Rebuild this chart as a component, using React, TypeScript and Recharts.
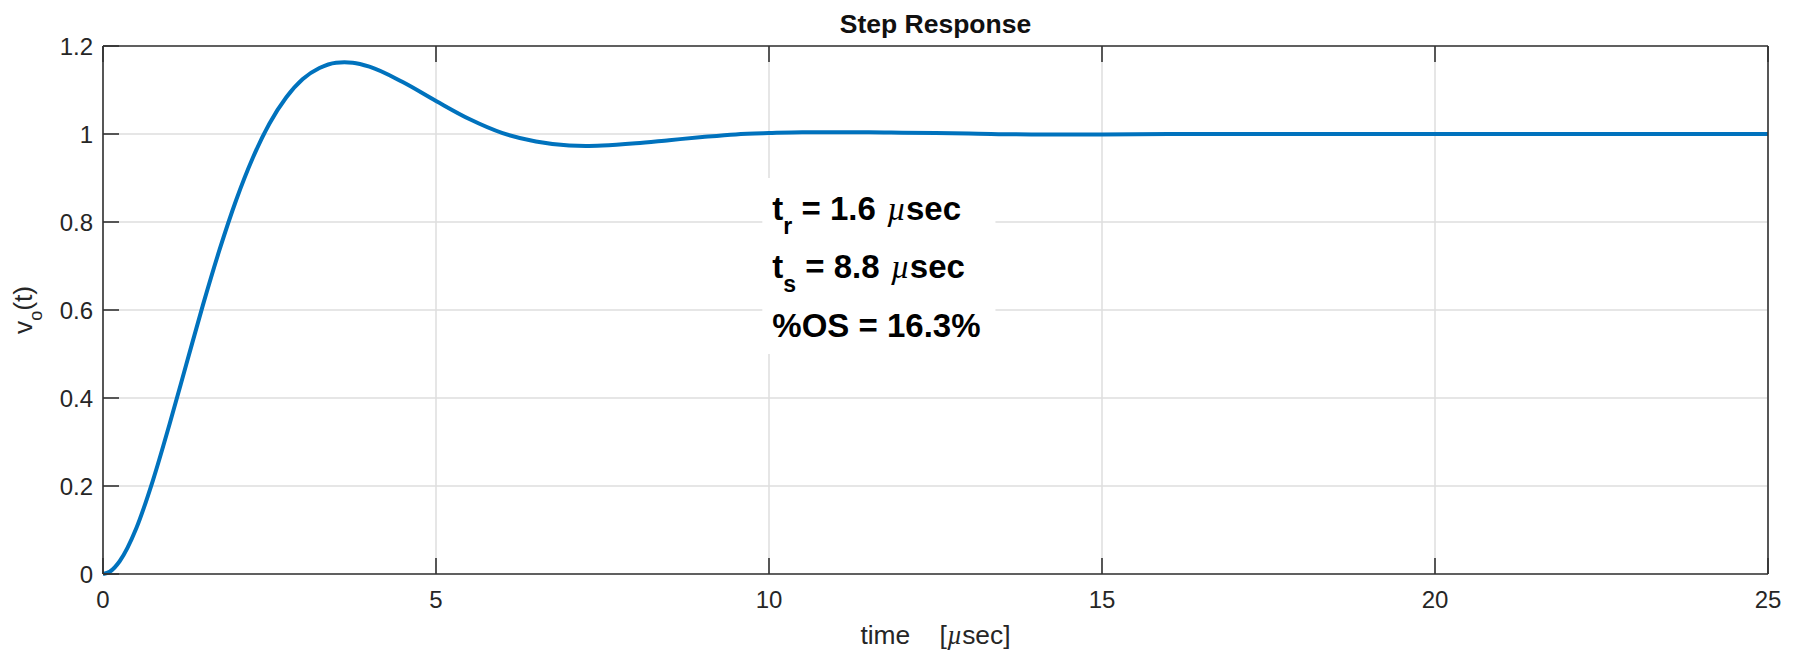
import { LineChart, Line, XAxis, YAxis, CartesianGrid, ReferenceArea } from "recharts";

// Step response (time in µsec, vo(t) in volts).
const times = [
  0, 0.1, 0.25, 0.5, 0.75, 1, 1.25, 1.5, 1.75, 2, 2.25, 2.5, 2.75, 3, 3.25, 3.5, 3.625, 3.75, 4, 4.5, 5,
  5.5, 6, 6.5, 7, 7.25, 7.5, 8, 8.5, 9, 9.5, 10, 10.5, 11, 11.5, 12, 13, 14, 15, 16, 18, 20, 22, 25,
];
const vout = [
  0, 0.005, 0.029, 0.104, 0.213, 0.341, 0.476, 0.611, 0.737, 0.85, 0.946, 1.024, 1.083, 1.125, 1.15, 1.162,
  1.163, 1.162, 1.153, 1.118, 1.075, 1.034, 1.002, 0.983, 0.974, 0.973, 0.974, 0.979, 0.986, 0.993, 0.999,
  1.002, 1.004, 1.004, 1.004, 1.003, 1.001, 0.999, 0.999, 1.0, 1.0, 1.0, 1.0, 1.0,
];

const xTicks = [0, 5, 10, 15, 20, 25];
const yTicks = [0, 0.2, 0.4, 0.6, 0.8, 1, 1.2];

const chartTitle = "Step Response";
const xLabel = "time    [";
const annotations = [
  { sym: "t", sub: "r", rest: " = 1.6 ", unit: "sec" },
  { sym: "t", sub: "s", rest: " = 8.8 ", unit: "sec" },
];
const overshootText = "%OS = 16.3%";

const FONT = '"Liberation Sans", Arial, Helvetica, sans-serif';
const MATH_FONT = '"Liberation Serif", "DejaVu Serif", serif';
const AXIS_COLOR = "#333333";
const TEXT_COLOR = "#262626";
const TICK_LEN = 16;

const data = times.map((t, i) => ({ t, v: vout[i] }));

// MATLAB-style ticks: drawn inward from the box edge, labels outside.
function BottomTick(props: any) {
  const { x, y, payload } = props;
  return (
    <g>
      <line x1={x} x2={x} y1={y} y2={y - TICK_LEN} stroke={AXIS_COLOR} strokeWidth={1.6} />
      <text x={x} y={y + 34} textAnchor="middle" fontSize={24} fontFamily={FONT} fill={TEXT_COLOR}>
        {payload.value}
      </text>
    </g>
  );
}

function TopTick(props: any) {
  const { x, y } = props;
  return <line x1={x} x2={x} y1={y} y2={y + TICK_LEN} stroke={AXIS_COLOR} strokeWidth={1.6} />;
}

function LeftTick(props: any) {
  const { x, y, payload } = props;
  return (
    <g>
      <line x1={x} x2={x + TICK_LEN} y1={y} y2={y} stroke={AXIS_COLOR} strokeWidth={1.6} />
      <text x={x - 10} y={y + 8.5} textAnchor="end" fontSize={24} fontFamily={FONT} fill={TEXT_COLOR}>
        {payload.value}
      </text>
    </g>
  );
}

function RightTick(props: any) {
  const { x, y } = props;
  return <line x1={x} x2={x - TICK_LEN} y1={y} y2={y} stroke={AXIS_COLOR} strokeWidth={1.6} />;
}

function renderTitle(props: any) {
  const vb = props.viewBox;
  return (
    <text
      x={vb.x + vb.width / 2}
      y={vb.y + 33}
      textAnchor="middle"
      fontSize={26.5}
      fontWeight="bold"
      fontFamily={FONT}
      fill="#111"
    >
      {chartTitle}
    </text>
  );
}

function renderXLabel(props: any) {
  const vb = props.viewBox;
  return (
    <text
      x={vb.x + vb.width / 2}
      y={vb.y + 70}
      textAnchor="middle"
      fontSize={26.4}
      fontFamily={FONT}
      fill={TEXT_COLOR}
      style={{ whiteSpace: "pre" }}
    >
      {xLabel}
      <tspan fontFamily={MATH_FONT} fontStyle="italic">µ</tspan>
      sec]
    </text>
  );
}

function renderYLabel(props: any) {
  const vb = props.viewBox;
  const cy = vb.y + vb.height / 2;
  return (
    <text
      x={0}
      y={0}
      transform={`translate(32, ${cy}) rotate(-90)`}
      textAnchor="middle"
      fontSize={26.4}
      fontFamily={FONT}
      fill={TEXT_COLOR}
    >
      v
      <tspan dy={10} fontSize={18}>o</tspan>
      <tspan dy={-10}>(t)</tspan>
    </text>
  );
}

// Text box with white background (it hides the grid beneath it).
function renderAnnotation(props: any) {
  const vb = props.viewBox;
  const left = vb.x + 10;
  const common = { fontSize: 33, fontWeight: "bold" as const, fontFamily: FONT, fill: "#000" };
  return (
    <g>
      {annotations.map((a, i) => (
        <text key={i} x={left} y={vb.y + 42 + i * 58} {...common}>
          {a.sym}
          <tspan dy={14} fontSize={23}>{a.sub}</tspan>
          <tspan dy={-14}>{a.rest}</tspan>
          <tspan fontFamily={MATH_FONT} fontStyle="italic" fontWeight="normal" dx={2}>µ</tspan>
          <tspan>{a.unit}</tspan>
        </text>
      ))}
      <text x={left} y={vb.y + 159} {...common}>
        {overshootText}
      </text>
    </g>
  );
}

export default function App() {
  return (
    <div style={{ position: "absolute", left: 0, top: 0, width: 1799, height: 651, background: "#fff" }}>
      <LineChart width={1799} height={651} data={data} margin={{ top: 0, right: 0, bottom: 0, left: 0 }}>
        <CartesianGrid stroke="#dedede" strokeWidth={1.5} />
        <XAxis
          dataKey="t"
          type="number"
          domain={[0, 25]}
          ticks={xTicks}
          interval={0}
          height={77}
          tickSize={0}
          tickMargin={0}
          tickLine={false}
          tick={<BottomTick />}
          axisLine={{ stroke: AXIS_COLOR, strokeWidth: 1.6 }}
          label={renderXLabel}
        />
        <XAxis
          xAxisId="top"
          orientation="top"
          dataKey="t"
          type="number"
          domain={[0, 25]}
          ticks={xTicks}
          interval={0}
          height={46}
          tickSize={0}
          tickMargin={0}
          tickLine={false}
          tick={<TopTick />}
          axisLine={{ stroke: AXIS_COLOR, strokeWidth: 1.6 }}
          label={renderTitle}
        />
        <YAxis
          type="number"
          domain={[0, 1.2]}
          ticks={yTicks}
          interval={0}
          width={103}
          tickSize={0}
          tickMargin={0}
          tickLine={false}
          tick={<LeftTick />}
          axisLine={{ stroke: AXIS_COLOR, strokeWidth: 1.6 }}
          label={renderYLabel}
        />
        <YAxis
          yAxisId="right"
          orientation="right"
          type="number"
          domain={[0, 1.2]}
          ticks={yTicks}
          interval={0}
          width={31}
          tickSize={0}
          tickMargin={0}
          tickLine={false}
          tick={<RightTick />}
          axisLine={{ stroke: AXIS_COLOR, strokeWidth: 1.6 }}
        />
        <ReferenceArea
          x1={9.9}
          x2={13.4}
          y1={0.5}
          y2={0.9}
          fill="#fff"
          fillOpacity={1}
          stroke="none"
          label={renderAnnotation}
        />
        <Line
          type="monotone"
          dataKey="v"
          stroke="#0072BD"
          strokeWidth={4}
          dot={false}
          activeDot={false}
          isAnimationActive={false}
        />
      </LineChart>
    </div>
  );
}
